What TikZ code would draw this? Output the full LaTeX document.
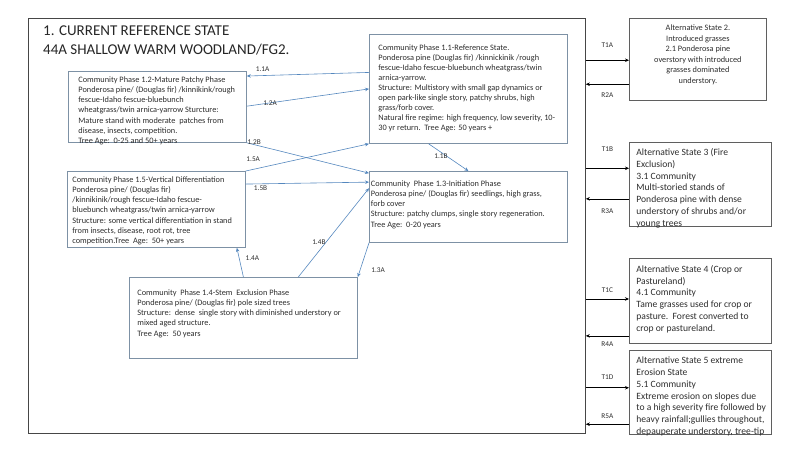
\documentclass[tikz,border=0pt]{standalone}
\usepackage{fontspec}
\setmainfont{Carlito}
\usepackage{tikz}
\usetikzlibrary{positioning,calc,arrows.meta}
\definecolor{framegray}{RGB}{70,70,70}
\definecolor{phaseline}{RGB}{125,145,165}
\definecolor{altline}{RGB}{95,95,95}
\definecolor{flowblue}{RGB}{84,135,190}
\definecolor{textgray}{RGB}{45,45,45}
\newcommand{\phasetext}[5]{\parbox[c][#2][t]{#1}{\vspace*{#3}\raggedright\leftskip=#4\relax #5}}
\tikzstyle{frame} = [draw=framegray,line width=0.8pt,minimum width=557pt,minimum height=415pt,anchor=north west,inner sep=0pt]
\tikzstyle{title} = [anchor=north west,align=left,inner sep=0pt,text=black!85,font=\fontsize{15}{19}\selectfont]
\tikzstyle{phase} = [draw=phaseline,line width=0.8pt,anchor=north west,inner sep=0pt,text=textgray,font=\fontsize{8.3}{10.1}\selectfont]
\tikzstyle{altstate} = [draw=altline,line width=0.8pt,anchor=north west,inner sep=0pt,text=textgray,font=\fontsize{9.6}{11.8}\selectfont]
\tikzstyle{flow} = [draw=flowblue,line width=0.6pt,-{Stealth[length=4pt,width=3.5pt]}]
\tikzstyle{trans} = [draw=black,line width=0.6pt,-{Stealth[length=4pt,width=3.5pt]}]
\tikzstyle{steplabel} = [inner sep=0pt,text=textgray,font=\fontsize{7.3}{8}\selectfont]

\begin{document}
\begin{tikzpicture}[x=1pt,y=-1pt]
\useasboundingbox (0,0) rectangle (800,450);
% reference state
\node[frame] (ref) at (28,18) {};
\node[title] (reftitle) at ($(ref.north west)+(15,8)$) {1. CURRENT REFERENCE STATE\\44A SHALLOW WARM WOODLAND/FG2.};
% community phases
\node[phase] (p11) at (369,34) {\phasetext{198pt}{109pt}{10pt}{9pt}{Community Phase 1.1-Reference State.\\
Ponderosa pine (Douglas fir) /kinnickinik /rough\\
fescue-Idaho fescue-bluebunch wheatgrass/twin\\
arnica-yarrow.\\
Structure: Multistory with small gap dynamics or\\
open park-like single story, patchy shrubs, high\\
grass/forb cover.\\
Natural fire regime: high frequency, low severity, 10-\\
30 yr return.\ \ Tree Age: 50 years +}};
\node[phase] (p12) at (68,71) {\phasetext{178pt}{71pt}{5.5pt}{10pt}{Community Phase 1.2-Mature Patchy Phase\\
Ponderosa pine/ (Douglas fir) /kinnikink/rough\\
fescue-Idaho fescue-bluebunch\\
wheatgrass/twin arnica-yarrow Sturcture:\\
Mature stand with moderate\ \ patches from\\
disease, insects, competition.\\
Tree Age:\ \ 0-25 and 50+ years}};
\node[phase] (p15) at (67,171) {\phasetext{178pt}{76pt}{5.5pt}{5pt}{Community Phase 1.5-Vertical Differentiation\\
Ponderosa pine/ (Douglas fir)\\
/kinnikinik/rough fescue-Idaho fescue-\\
bluebunch wheatgrass/twin arnica-yarrow\\
Structure: some vertical differentiation in stand\\
from insects, disease, root rot, tree\\
competition.Tree\ \ Age:\ \ 50+ years}};
\node[phase] (p13) at (369,171) {\phasetext{198pt}{71pt}{9.5pt}{1.5pt}{Community\ \ Phase 1.3-Initiation Phase\\
Ponderosa pine/ (Douglas fir) seedlings, high grass,\\
forb cover\\
Structure: patchy clumps, single story regeneration.\\
Tree Age:\ \ 0-20 years}};
\node[phase] (p14) at (129,277) {\phasetext{228pt}{81pt}{12.5pt}{8pt}{Community\ \ Phase 1.4-Stem\ \ Exclusion Phase\\
Ponderosa pine/ (Douglas fir) pole sized trees\\
Structure:\ \ dense\ \ single story with diminished understory or\\
mixed aged structure.\\
Tree Age:\ \ 50 years}};
% alternative states
\node[altstate,font=\fontsize{8.3}{10.5}\selectfont] (alt2) at (629,18) {\phasetext{137pt}{82pt}{6.5pt}{0pt}{\centering Alternative State 2.\\
Introduced grasses\\
2.1 Ponderosa pine\\
overstory with introduced\\
grasses dominated\\
understory.}};
\node[altstate] (alt3) at (629,142) {\phasetext{142pt}{84pt}{6pt}{7pt}{Alternative State 3 (Fire\\
Exclusion)\\
3.1 Community\\
Multi-storied stands of\\
Ponderosa pine with dense\\
understory of shrubs and/or\\
young trees}};
\node[altstate,below=31pt of alt3.south west,anchor=north west] (alt4) {\phasetext{142pt}{85pt}{7pt}{7pt}{Alternative State 4 (Crop or\\
Pastureland)\\
4.1 Community\\
Tame grasses used for crop or\\
pasture.\ \ Forest converted to\\
crop or pastureland.}};
\node[altstate,below=6pt of alt4.south west,anchor=north west] (alt5) {\phasetext{142pt}{84pt}{7pt}{7pt}{Alternative State 5 extreme\\
Erosion State\\
5.1 Community\\
Extreme erosion on slopes due\\
to a high severity fire followed by\\
heavy rainfall;gullies throughout,\\
depauperate understory, tree-tip}};
% pathways between community phases
\draw[flow] ($(p11.north west)!0.35!(p11.south west)$) -- node[steplabel,pos=0.87,yshift=6.5pt] {1.1A} ($(p12.north east)!0.07!(p12.south east)$);
\draw[flow] ($(p12.north east)!0.49!(p12.south east)$) -- node[steplabel,pos=0.19] {1.2A} ($(p11.north west)!0.5!(p11.south west)$);
\draw[flow] (p12.south east) -- node[steplabel,pos=0.06,yshift=2.5pt] {1.2B} ($(p13.north west)!0.03!(p13.south west)$);
\draw[flow] (p15.north east) -- node[steplabel,pos=0.06,yshift=10pt] {1.5A} (p11.south west);
\draw[flow] ($(p15.north east)!0.17!(p15.south east)$) -- node[steplabel,pos=0.12,yshift=-4pt] {1.5B} ($(p13.north west)!0.155!(p13.south west)$);
\draw[flow] ($(p14.north west)!0.74!(p14.north east)$) -- node[steplabel,pos=0.39,xshift=-7pt] {1.4B} ($(p13.north west)!0.24!(p13.south west)$);
\draw[flow] (p14.north) -- node[steplabel,pos=0.63,xshift=13pt] {1.4A} ($(p15.south west)!0.95!(p15.south east)$);
\draw[flow] (p13.south west) -- node[steplabel,pos=0.8,xshift=18pt] {1.3A} (p14.north east);
\draw[flow] ($(p11.south west)!0.3!(p11.south east)$) -- node[steplabel,pos=0.46,xshift=-6pt] {1.1B} (p13.north);
% transitions and restorations
\coordinate (t1a) at ($(alt2.north west)!0.51!(alt2.south west)$);
\coordinate (r2a) at ($(alt2.north west)!0.8!(alt2.south west)$);
\coordinate (t1b) at ($(alt3.north west)!0.31!(alt3.south west)$);
\coordinate (r3a) at ($(alt3.north west)!0.67!(alt3.south west)$);
\coordinate (t1c) at ($(alt4.north west)!0.48!(alt4.south west)$);
\coordinate (r4a) at ($(alt4.north west)!0.91!(alt4.south west)$);
\coordinate (t1d) at ($(alt5.north west)!0.45!(alt5.south west)$);
\coordinate (r5a) at ($(alt5.north west)!0.88!(alt5.south west)$);
\draw[trans] (ref.east |- t1a) -- node[steplabel,yshift=15pt] {T1A} (t1a);
\draw[trans] (r2a) -- node[steplabel,yshift=-11pt] {R2A} (ref.east |- r2a);
\draw[trans] (ref.east |- t1b) -- node[steplabel,yshift=19pt] {T1B} (t1b);
\draw[trans] (r3a) -- node[steplabel,yshift=-12pt] {R3A} (ref.east |- r3a);
\draw[trans] (ref.east |- t1c) -- node[steplabel,yshift=9pt] {T1C} (t1c);
\draw[trans] (r4a) -- node[steplabel,yshift=-8pt] {R4A} (ref.east |- r4a);
\draw[trans] (ref.east |- t1d) -- node[steplabel,yshift=11pt] {T1D} (t1d);
\draw[trans] (r5a) -- node[steplabel,yshift=8pt] {R5A} (ref.east |- r5a);
\end{tikzpicture}
\end{document}
